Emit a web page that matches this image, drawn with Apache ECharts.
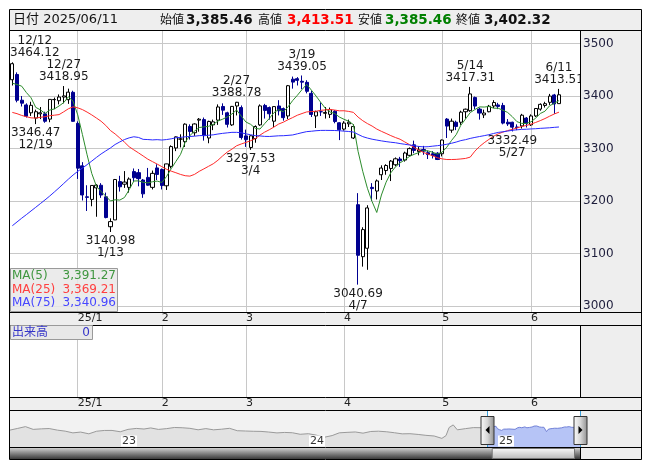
<!DOCTYPE html>
<html><head><meta charset="utf-8">
<script src="https://cdn.jsdelivr.net/npm/echarts@6/dist/echarts.min.js"></script>
<style>html,body{margin:0;padding:0;background:#fff}#c{width:653px;height:470px}</style>
</head><body><div id="c"></div>
<script>
// ---------------- DATA ----------------
const dates = [
'2024-12-12','2024-12-13','2024-12-16','2024-12-17','2024-12-18','2024-12-19','2024-12-20','2024-12-23','2024-12-24','2024-12-25','2024-12-26','2024-12-27','2024-12-30','2024-12-31',
'2025-01-02','2025-01-03','2025-01-06','2025-01-07','2025-01-08','2025-01-09','2025-01-10','2025-01-13','2025-01-14','2025-01-15','2025-01-16','2025-01-17','2025-01-20','2025-01-21','2025-01-22','2025-01-23','2025-01-24','2025-01-27',
'2025-02-05','2025-02-06','2025-02-07','2025-02-10','2025-02-11','2025-02-12','2025-02-13','2025-02-14','2025-02-17','2025-02-18','2025-02-19','2025-02-20','2025-02-21','2025-02-24','2025-02-25','2025-02-26','2025-02-27','2025-02-28',
'2025-03-03','2025-03-04','2025-03-05','2025-03-06','2025-03-07','2025-03-10','2025-03-11','2025-03-12','2025-03-13','2025-03-14','2025-03-17','2025-03-18','2025-03-19','2025-03-20','2025-03-21','2025-03-24','2025-03-25','2025-03-26','2025-03-27','2025-03-28','2025-03-31',
'2025-04-01','2025-04-02','2025-04-03','2025-04-07','2025-04-08','2025-04-09','2025-04-10','2025-04-11','2025-04-14','2025-04-15','2025-04-16','2025-04-17','2025-04-18','2025-04-21','2025-04-22','2025-04-23','2025-04-24','2025-04-25','2025-04-28','2025-04-29','2025-04-30',
'2025-05-06','2025-05-07','2025-05-08','2025-05-09','2025-05-12','2025-05-13','2025-05-14','2025-05-15','2025-05-16','2025-05-19','2025-05-20','2025-05-21','2025-05-22','2025-05-23','2025-05-26','2025-05-27','2025-05-28','2025-05-29','2025-05-30',
'2025-06-03','2025-06-04','2025-06-05','2025-06-06','2025-06-09','2025-06-10','2025-06-11'];

const opens = [
3431,3441,3392,3383,3368,3358,3366,3366,3356,3393,3391,3398,3393,3407,
3347.94,3267,3208,3203,3225,3230,3208,3151,3164,3237,3232,3226,3256,3254,3240,3245,3226,3263,
3260,3229,3266,3301,3318,3313,3342,3330,3354,3355,3320,3345,3354,3380,3368,3345,3381,3378,
3324,3302,3319,3345,3382,3378,3352,3381,3376,3362,3432,3433,3428,3426,3405,3362,3370,3367,3365,3371,3349,
3337,3347,3320,3193,3094,3110,3226,3219,3250,3258,3262,3269,3280,3278,3287,3307,3294,3298,3292,3290,3291,
3290,3356,3335,3350,3350,3370,3372,3397,3375,3364,3370,3381,3383,3382,3350,3350,3341,3343,3358,
3345,3362,3375,3382,3388,3402,3385.46];

const highs = [
3464.12,3445,3400,3386,3389,3374,3379,3370,3394,3397,3403,3418.95,3414,3410,
3351.74,3274,3230,3230,3232,3234,3216,3167,3242,3248,3257,3245,3262,3261,3242,3263,3258,3270,
3262,3271,3306,3323,3327,3348,3346,3348,3358,3359,3353,3355,3384,3386,3370,3381,3388.78,3382,
3336,3325,3344,3384,3385,3380,3380,3392,3378,3421,3437,3436,3439.05,3430,3410,3372,3388,3379,3378,3373,3350,
3352,3355,3346,3215,3150,3192,3234,3241,3268,3270,3278,3283,3284,3294,3302,3315,3304,3305,3296,3295,3293,
3317,3358,3357,3353,3372,3376,3417.31,3399,3378,3374,3383,3392,3387,3387,3356,3351,3346,3366,3360,
3365,3377,3386,3389,3404,3404,3413.51];

const lows = [
3420,3388,3380,3359,3362,3346.47,3356,3349,3350,3375,3384,3386,3385,3351,
3242.08,3201,3181,3190,3170,3206,3167,3140.98,3164,3218,3225,3216,3236,3228,3206,3229,3222,3240,
3222,3221,3262,3295,3302,3303,3317,3324,3332,3315,3310,3335,3345,3364,3340,3343,3363,3317,
3303,3297.53,3311,3343,3357,3355,3341,3363,3353,3356,3414,3420,3413,3405,3360,3339,3362,3357,3358,3348,3316,
3334,3341,3318,3040.69,3075,3069,3200,3203,3240,3250,3238,3266,3265,3275,3285,3291,3287,3288,3280,3281,3278,
3285,3320,3330,3335,3345,3357,3370,3375,3355,3358,3369,3377,3375,3346,3343,3332.49,3335,3338,3340,
3343,3360,3372,3378,3383,3366,3385.46];

const closes = [
3461.50,3391.88,3386.33,3361.49,3382.21,3370.03,3368.07,3351.88,3393.53,3393.35,3398.08,3400.14,3407.33,3351.76,
3262.56,3211.43,3206.92,3229.64,3230.17,3211.39,3168.52,3160.76,3240.94,3227.12,3236.03,3241.82,3244.38,3242.62,3213.62,3230.16,3252.63,3250.60,
3229.49,3270.66,3303.67,3322.17,3318.06,3346.39,3332.48,3346.72,3355.83,3324.49,3351.54,3350.78,3379.11,3373.03,3346.04,3380.21,3388.06,3320.90,
3316.93,3324.21,3341.96,3381.10,3372.55,3366.16,3379.83,3371.92,3358.73,3419.56,3426.43,3429.76,3426.34,3408.95,3364.83,3370.03,3369.98,3368.70,3373.75,3351.31,3335.75,
3348.44,3350.13,3342.01,3096.58,3145.55,3186.81,3223.64,3238.23,3262.81,3267.66,3276.00,3280.34,3276.73,3291.43,3299.76,3296.36,3297.29,3295.06,3288.41,3286.65,3279.03,
3316.11,3342.67,3352.00,3342.00,3369.24,3374.87,3403.95,3380.82,3367.46,3367.58,3380.48,3387.57,3380.19,3348.37,3346.84,3340.69,3339.93,3363.45,3347.49,
3361.98,3376.20,3384.10,3385.36,3399.77,3384.82,3402.32];

// closes of the 74 sessions before the first shown day (only used for the moving averages)
const priorCloses = [
2856,2849,2855,2855,2848,2837,2824,2842,
2811,2802,2784,2788,2765,2736,2744,2721,2717,2704,2717,2736,2736,2748,2863,2896,3000,3088,3336,
3489,3258,3301,3217,3284,3201,3202,3169,3261,3268,3286,3302,3280,3300,3322,3286,3266,3279,
3272,3310,3387,3383,3470,3452,3470,3421,3439,3380,3331,3324,3346,3368,3370,3267,3263,3259,3310,3296,3326,
3364,3379,3364,3368,3404,3402,3422,3432];

const maPeriods = [5, 25, 75];

// annotated highs / lows
const annotations = [
['2024-12-12','high'],['2024-12-19','low'],['2024-12-27','high'],['2025-01-13','low'],
['2025-02-27','high'],['2025-03-04','low'],['2025-03-19','high'],['2025-04-07','low'],
['2025-05-14','high'],['2025-05-27','low'],['2025-06-11','high']];

// navigator history (semi-monthly samples before the shown window)
const navDates = ['2022-06-01','2022-06-16','2022-07-01','2022-07-16','2022-08-01','2022-08-16','2022-09-01','2022-09-16','2022-10-01','2022-10-16','2022-11-01','2022-11-16','2022-12-01','2022-12-16',
'2023-01-01','2023-01-16','2023-02-01','2023-02-16','2023-03-01','2023-03-16','2023-04-01','2023-04-16','2023-05-01','2023-05-16','2023-06-01','2023-06-16','2023-07-01','2023-07-16','2023-08-01','2023-08-16','2023-09-01','2023-09-16','2023-10-01','2023-10-16','2023-11-01','2023-11-16','2023-12-01','2023-12-16',
'2024-01-01','2024-01-16','2024-02-01','2024-02-16','2024-03-01','2024-03-16','2024-04-01','2024-04-16','2024-05-01','2024-05-16','2024-06-01','2024-06-16','2024-07-01','2024-07-16','2024-08-01','2024-08-16','2024-09-01','2024-09-16','2024-09-24','2024-09-30','2024-10-08','2024-10-16','2024-11-01','2024-11-16','2024-12-01'];
const navValues = [3186,3285,3388,3228,3259,3277,3184,3126,3024,3071,2969,3120,3165,3167,
3089,3228,3284,3249,3312,3226,3272,3338,3323,3290,3204,3273,3202,3237,3290,3150,3133,3117,3110,3073,3023,3050,3031,2942,
2975,2893,2770,2866,3027,3054,3077,3007,3105,3122,3087,3032,2967,2976,2932,2880,2842,2704,2863,3336,3489,3202,3272,3331,3326];
const navYearTicks = ['2023-01-01','2024-01-01','2025-01-01'];

const volumeLabel = '出来高';
const volumeValue = 0;

// ---------------- CHART ----------------
const FONT = '"DejaVu Sans", "Noto Sans CJK JP", sans-serif';
const Y_MIN = 2988.6, Y_MAX = 3525.7;
const NAV_MAX = '2025-06-11';
const DAY = 86400000;
const navBase = Date.UTC(2022, 5, 1);
const dayNum = (s) => Math.round((Date.UTC(+s.slice(0, 4), +s.slice(5, 7) - 1, +s.slice(8, 10)) - navBase) / DAY);
const padCount = 4;
const cats = dates.concat(Array.from({length: padCount}, (_, i) => '_pad' + i));
const monthStart = cats.map((d, i) => i > 0 && i < dates.length && d.slice(5, 7) !== dates[i - 1].slice(5, 7));
const monthTick = (i) => monthStart[i];
const monthLabel = (v) => { const m = +v.slice(5, 7); return m === 1 ? v.slice(2, 4) + '/1' : String(m); };

const allCloses = priorCloses.concat(closes);
function movingAvg(n) {
  return closes.map((_, i) => {
    const e = priorCloses.length + i; let s = 0;
    for (let k = e - n + 1; k <= e; k++) s += allCloses[k];
    return +(s / n).toFixed(2);
  });
}
const mas = maPeriods.map(movingAvg);
const maColors = ['#2c8c2c', '#ff2a2a', '#2a2aff'];
const maTextColors = ['#3f963f', '#ff4040', '#4646ff'];
const fmt = (v) => v.toLocaleString('en-US', {minimumFractionDigits: 2, maximumFractionDigits: 2});

const candleData = dates.map((d, i) => [opens[i], closes[i], lows[i], highs[i]]);

function buildMarkPoints(offsets) {
  return annotations.map(([d, t], k) => {
    const i = dates.indexOf(d);
    const v = t === 'high' ? highs[i] : lows[i];
    const md = (+d.slice(5, 7)) + '/' + (+d.slice(8, 10));
    const lines = t === 'high' ? [md, v.toFixed(2)] : [v.toFixed(2), md];
    return {coord: [i, v], value: v,
      label: {position: t === 'high' ? 'top' : 'bottom', formatter: lines.join('\n'), offset: [offsets ? offsets[k] : 0, 0]}};
  });
}

const chart = echarts.init(document.getElementById('c'));
const option = {
  animation: false,
  backgroundColor: '#ffffff',
  grid: [
    {left: 10, top: 30, width: 570, height: 282},
    {left: 10, top: 325, width: 570, height: 72},
    {left: 10, top: 411, width: 570, height: 36, show: true, backgroundColor: '#f2f2f2', borderWidth: 0}
  ],
  xAxis: [
    {type: 'category', gridIndex: 0, data: cats, boundaryGap: true,
     axisLine: {show: false}, splitLine: {show: false},
     axisTick: {show: true, inside: true, length: 282, alignWithLabel: true, interval: monthTick, lineStyle: {color: '#c8c8c8'}},
     axisLabel: {interval: monthTick, formatter: monthLabel, align: 'left', margin: 1, fontSize: 11, color: '#222', fontFamily: FONT}},
    {type: 'category', gridIndex: 1, data: cats, boundaryGap: true,
     axisLine: {show: false}, splitLine: {show: false},
     axisTick: {show: true, inside: true, length: 72, alignWithLabel: true, interval: monthTick, lineStyle: {color: '#c8c8c8'}},
     axisLabel: {interval: monthTick, formatter: monthLabel, align: 'left', margin: 1, fontSize: 11, color: '#222', fontFamily: FONT}},
    {type: 'value', gridIndex: 2, min: 0, max: dayNum(NAV_MAX), show: false}
  ],
  yAxis: [
    {type: 'value', gridIndex: 0, min: Y_MIN, max: Y_MAX, splitNumber: 5, position: 'left',
     axisLabel: {show: false}, axisLine: {show: false}, axisTick: {show: false},
     splitLine: {lineStyle: {color: '#c8c8c8'}}},
    {type: 'value', gridIndex: 0, min: Y_MIN, max: Y_MAX, splitNumber: 5, position: 'right', z: 60,
     axisLabel: {margin: 3, fontSize: 12, color: '#1e1e3c', showMinLabel: false, showMaxLabel: false, fontFamily: FONT,
       formatter: (v) => String(Math.round(v))},
     axisLine: {show: false}, axisTick: {show: false}, splitLine: {show: false}},
    {type: 'value', gridIndex: 1, show: false, min: 0, max: 1},
    {type: 'value', gridIndex: 2, show: false, min: 2200, max: 4300}
  ],
  series: [
    {id: 'k', type: 'candlestick', xAxisIndex: 0, yAxisIndex: 0, data: candleData, barWidth: 3.6,
     itemStyle: {color: '#ffffff', color0: '#000090', borderColor: '#000000', borderColor0: '#000090', borderWidth: 1},
     markPoint: {symbol: 'circle', symbolSize: 0, silent: true,
       label: {show: true, color: '#1a1a1a', fontSize: 12, lineHeight: 12, fontFamily: FONT, distance: 3},
       data: buildMarkPoints(null)}},
    ...mas.map((m, j) => ({type: 'line', xAxisIndex: 0, yAxisIndex: 0, data: m, symbol: 'none', silent: true, z: 3,
      lineStyle: {color: maColors[j], width: 1}})),
    {type: 'line', xAxisIndex: 2, yAxisIndex: 3, symbol: 'none', silent: true,
     data: navDates.map((d, i) => [dayNum(d), navValues[i]]).concat([[dayNum(dates[0]), closes[0]]]),
     lineStyle: {color: '#9a9a9a', width: 1}, areaStyle: {color: '#e2e2e2', opacity: 1}},
    {type: 'line', xAxisIndex: 2, yAxisIndex: 3, symbol: 'none', silent: true,
     data: dates.map((d, i) => [dayNum(d), closes[i]]),
     lineStyle: {color: '#7282d8', width: 1}, areaStyle: {color: '#b6c4f6', opacity: 1},
     markArea: {silent: true, itemStyle: {color: '#ffffff'}, data: [[{xAxis: dayNum(dates[0])}, {xAxis: dayNum(NAV_MAX)}]]}}
  ]
};
chart.setOption(option);

// --------- label clamping (keep annotation labels inside plot) ---------
const ctx = document.createElement('canvas').getContext('2d');
ctx.font = '12px "DejaVu Sans"';
const offs = annotations.map(([d, t]) => {
  const i = dates.indexOf(d);
  const v = t === 'high' ? highs[i] : lows[i];
  const px = chart.convertToPixel({xAxisIndex: 0, yAxisIndex: 0}, [i, v]);
  const md = (+d.slice(5, 7)) + '/' + (+d.slice(8, 10));
  const w = Math.max(ctx.measureText(md).width, ctx.measureText(v.toFixed(2)).width);
  const left = px[0] - w / 2;
  return left < 10 ? 10 - left : 0;
});

// --------- decorations ---------
const xs = chart.convertToPixel({xAxisIndex: 2}, dayNum(dates[0]));
const xe = chart.convertToPixel({xAxisIndex: 2}, dayNum(NAV_MAX));
const last = dates.length - 1;
const L = (x1, y1, x2, y2, c, z) => ({type: 'line', shape: {x1, y1, x2, y2}, style: {stroke: c, lineWidth: 1}, z: z || 55, silent: true});
const R = (x, y, w, h, fill, z, stroke) => ({type: 'rect', shape: {x, y, width: w, height: h}, style: {fill, stroke: stroke || null, lineWidth: 1}, z, silent: true});
const T = (x, y, text, fill, font, align, extra) => ({type: 'text', x, y, z: 62, silent: true,
  style: Object.assign({text, fill, font, textAlign: align || 'left', align: align || 'left', textVerticalAlign: 'middle', verticalAlign: 'middle'}, extra || {})});

const g = [];
g.push(R(10, 10, 631, 20, '#eeeeee', -1));
g.push(R(10, 312, 631, 13, '#eeeeee', -1));
g.push(R(10, 397, 631, 13, '#eeeeee', -1));
g.push(R(580, 30, 61, 282, '#eeeeee', 50));
g.push(R(580, 325, 61, 72, '#eeeeee', 50));
g.push(R(580, 410, 61, 50, '#eeeeee', 50));
// navigator year labels
navYearTicks.forEach(s => {
  const x = chart.convertToPixel({xAxisIndex: 2}, dayNum(s));
  const t = T(Math.round(x) + 1, 441, s.slice(2, 4), '#333', '11px ' + FONT, 'left',
    {backgroundColor: '#ffffff', padding: [0, 1, 0, 1]});
  t.z = 53;
  g.push(t);
});
g.push(R(10, 448, 570, 11, new echarts.graphic.LinearGradient(0, 0, 0, 1, [
  {offset: 0, color: '#cfcfcf'}, {offset: 0.45, color: '#8a8a8a'}, {offset: 1, color: '#3a3a3a'}]), 54));
g.push(R(xs + 5.5, 448.5, xe - xs - 11, 10, new echarts.graphic.LinearGradient(0, 0, 0, 1, [
  {offset: 0, color: '#fafafa'}, {offset: 1, color: '#b8b8b8'}]), 55, '#777'));
[xs, xe].forEach((x, k) => {
  const cx = Math.round(x) + 0.5;
  g.push(L(cx, 410, cx, 447, '#3aa0dc', 55));
  g.push(R(cx - 6.5, 416.5, 13, 28, new echarts.graphic.LinearGradient(0, 0, 1, 0, [
    {offset: 0, color: '#fbfbfb'}, {offset: 0.5, color: '#d6d6d6'}, {offset: 1, color: '#8e8e8e'}]), 56, '#333'));
  const pts = k === 0 ? [[cx + 2, 426], [cx + 2, 434], [cx - 2, 430]] : [[cx - 2, 426], [cx - 2, 434], [cx + 2, 430]];
  g.push({type: 'polygon', shape: {points: pts}, style: {fill: '#000'}, z: 57, silent: true});
});
[30.5, 312.5, 325.5, 397.5, 410.5, 447.5].forEach(y => g.push(L(10, y, 641, y, '#000')));
g.push(L(580.5, 30, 580.5, 312, '#000'));
g.push(L(580.5, 325, 580.5, 397, '#000'));
g.push(L(580.5, 447, 580.5, 459, '#000'));
g.push({type: 'rect', shape: {x: 9.5, y: 9.5, width: 632, height: 450}, style: {fill: null, stroke: '#000', lineWidth: 1}, z: 58, silent: true});
g.push(T(13, 20, '日付 ' + dates[last].replace(/-/g, '/'), '#111', '13px ' + FONT));
const hdr = [['始値', opens[last], '#111', 160, 186], ['高値', highs[last], '#ff0000', 258, 287],
             ['安値', lows[last], '#008000', 358, 385], ['終値', closes[last], '#111', 456, 484]];
hdr.forEach(([lab, v, c, lx, vx]) => {
  g.push(T(lx, 20.5, lab, '#111', '12px ' + FONT));
  g.push(T(vx, 20, fmt(v), c, 'bold 13.5px ' + FONT));
});
g.push(R(10.5, 268.5, 107, 43, 'rgba(232,232,232,0.85)', 60, '#9a9a9a'));
maPeriods.forEach((p, j) => {
  const y = 276 + j * 13.5;
  g.push(T(12, y, 'MA(' + p + ')', maTextColors[j], '12px ' + FONT));
  g.push(T(116, y, fmt(mas[j][last]), maTextColors[j], '12px ' + FONT, 'right'));
});
g.push(R(10.5, 325.5, 82, 14, '#e8e8e8', 60, '#9a9a9a'));
g.push(T(12, 333, volumeLabel, '#3434c8', '12px ' + FONT));
g.push(T(90, 333, String(volumeValue), '#3434c8', '12px ' + FONT, 'right'));

chart.setOption({
  graphic: g,
  series: [{id: 'k', markPoint: {data: buildMarkPoints(offs)}}]
});
</script>
</body></html>
